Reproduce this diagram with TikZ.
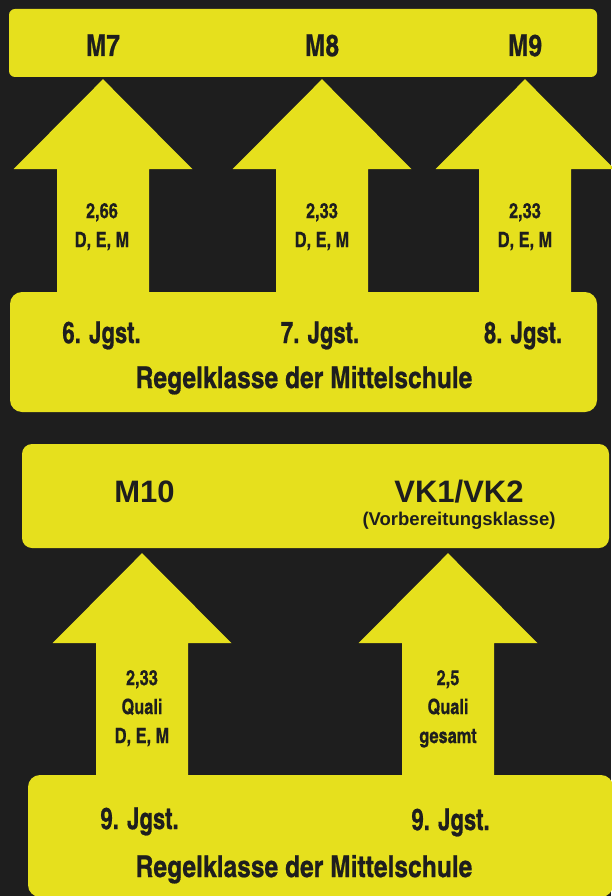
\documentclass[tikz,border=0pt]{standalone}
\usepackage{fontspec}
\usetikzlibrary{calc}
\setmainfont{Liberation Sans}
\newfontfamily\cnfont{texgyreheroscn-bold}[Extension=.otf, FakeStretch=0.9, FakeBold=0.6]
\newfontfamily\cnreg{texgyreheroscn-bold}[Extension=.otf, FakeStretch=1.0, FakeBold=0.6]
\newfontfamily\cnsmall{texgyreheroscn-bold}[Extension=.otf, FakeStretch=0.95, FakeBold=0.5]
\definecolor{ylw}{HTML}{E6E01D}
\definecolor{bg}{HTML}{1E1E1E}
\newcommand\blockup[4]{% #1 x coordinate, #2 top node, #3 bottom node, #4 tip gap
  \fill[ylw] ($(#1 |- #2.south)+(0,#4)$) -- ++(89.5,90) -- ++(-43.5,0)
    -- ($(#1 |- #3.north)+(46,8)$) -- ++(-92,0)
    -- ($(#1 |- #2.south)+(-46,90+#4)$) -- ++(-43.5,0) -- cycle;}
\begin{document}
\begin{tikzpicture}[x=1pt,y=-1pt,
  box/.style={fill=ylw, draw=none, inner sep=0pt, rounded corners=#1},
  box/.default=6pt,
  big/.style={font=\cnfont\fontsize{30}{31}\selectfont, text=bg, anchor=base, inner sep=0pt},
  reg/.style={font=\cnreg\fontsize{30}{31}\selectfont, text=bg, anchor=base, inner sep=0pt},
  small/.style={font=\cnsmall\fontsize{21}{22}\selectfont, text=bg, anchor=base, inner sep=0pt},
  wide/.style={font=\bfseries\fontsize{31}{32}\selectfont, text=bg, anchor=base, inner sep=0pt},
  widesmall/.style={font=\bfseries\fontsize{18.5}{19}\selectfont, text=bg, anchor=base, inner sep=0pt}]
\useasboundingbox (0,0) rectangle (611,896);
\fill[bg] (0,0) rectangle (611,896);
% boxes
\node[box, minimum width=588pt, minimum height=68pt] (T1) at (303,43) {};
\node[box=12pt, minimum width=587pt, minimum height=120pt] (B1) at (303.5,352) {};
\node[box=10pt, minimum width=587pt, minimum height=104pt] (T2) at (315.5,496) {};
\node[box=12pt, minimum width=585pt, minimum height=122pt] (B2) at (320.5,836) {};
% arrow axes
\coordinate (a1) at (103,0);
\coordinate (a2) at (322,0);
\coordinate (a3) at (525,0);
\coordinate (a4) at (142,0);
\coordinate (a5) at (448,0);
\blockup{a1}{T1}{B1}{2}
\blockup{a2}{T1}{B1}{2}
\blockup{a3}{T1}{B1}{2}
\blockup{a4}{T2}{B2}{5}
\blockup{a5}{T2}{B2}{5}
% top texts
\node[reg] (m7) at (103,56) {M7};
\node[reg] (m8) at (322,56) {M8};
\node[reg] (m9) at (525,56) {M9};
\node[small] (c1a) at (102,218) {2,66};
\node[small] (c1b) at (102,247) {D, E, M};
\node[small] (c2a) at (322,218) {2,33};
\node[small] (c2b) at (322,247) {D, E, M};
\node[small] (c3a) at (525,218) {2,33};
\node[small] (c3b) at (525,247) {D, E, M};
\node[big] (j6) at (101.5,343) {6. Jgst.};
\node[big] (j7) at (320,343) {7. Jgst.};
\node[big] (j8) at (523,343) {8. Jgst.};
\node[reg] (r1) at (304,388) {Regelklasse der Mittelschule};
% bottom texts
\node[wide] (m10) at (144.5,502) {M10};
\node[wide] (vk) at (459,502) {VK1/VK2};
\node[widesmall] (vkb) at (459,525) {(Vorbereitungsklasse)};
\node[small] (c4a) at (142,685) {2,33};
\node[small] (c4b) at (142,714) {Quali};
\node[small] (c4c) at (142,743) {D, E, M};
\node[small] (c5a) at (448,685) {2,5};
\node[small] (c5b) at (448,714) {Quali};
\node[small] (c5c) at (448,743) {gesamt};
\node[big] (j9a) at (139.5,829) {9. Jgst.};
\node[big] (j9b) at (450.5,830) {9. Jgst.};
\node[reg] (r2) at (304,877) {Regelklasse der Mittelschule};
\end{tikzpicture}
\end{document}
